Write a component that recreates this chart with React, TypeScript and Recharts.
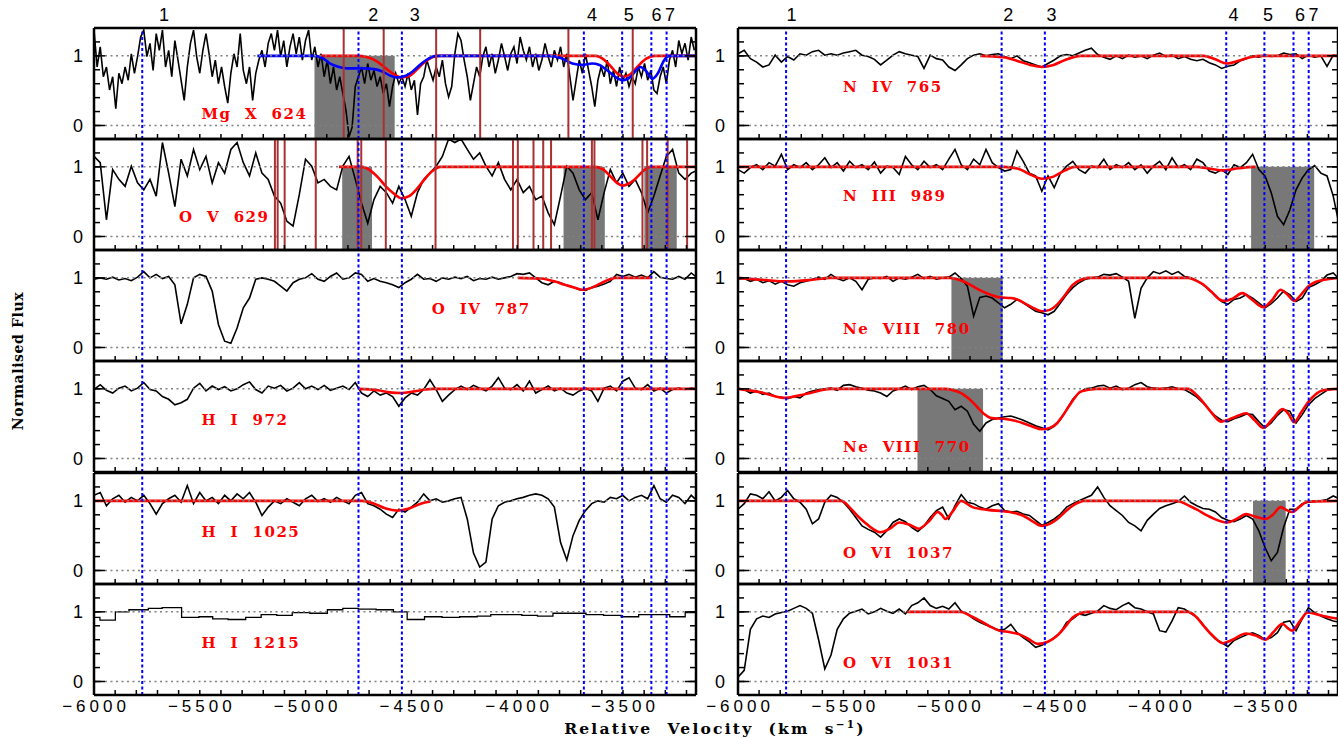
import React from "react";
import {
  LineChart,
  Line,
  XAxis,
  YAxis,
  ReferenceLine,
  ReferenceArea,
  ReferenceDot,
} from "recharts";

type Pair = [number, number];

const V_MIN = -6000;
const V_MAX = -3155;
const F_MIN = -0.194;
const F_MAX = 1.4;

const FINE_STEP = 14.7;
const STEP = 29.4;

const MINOR_V = [
  -6000, -5900, -5800, -5700, -5600, -5500, -5400, -5300, -5200, -5100, -5000,
  -4900, -4800, -4700, -4600, -4500, -4400, -4300, -4200, -4100, -4000, -3900,
  -3800, -3700, -3600, -3500, -3400, -3300, -3200,
];
const MAJOR_V = [-6000, -5500, -5000, -4500, -4000, -3500];
const MINOR_F = [0, 0.2, 0.4, 0.6, 0.8, 1, 1.2];
const MAJOR_F = [0, 1];

// velocity components (blue dotted lines) and where their numbers sit on top
const COMPONENTS = [-5772, -4750, -4545, -3685, -3504, -3366, -3294];
const COMPONENT_NAMES = ["1", "2", "3", "4", "5", "6", "7"];
const NAME_POS_LEFT = [-5669, -4680, -4484, -3647, -3473, -3342, -3278];
const NAME_POS_RIGHT = [-5746, -4718, -4513, -3651, -3487, -3335, -3271];

// ---- spectra (normalised flux), sampled from -6000 km/s ----
const MG_X_624 = [
  1.37, 0.84, 1.13, 0.7, 0.84, 0.51, 0.7, 0.24, 0.75, 0.6,
  0.84, 0.65, 1.03, 0.75, 0.99, 1.27, 1.37, 0.99, 1.18, 0.79,
  1.32, 1.08, 1.37, 0.84, 1.08, 0.7, 1.22, 0.94, 0.65, 0.36,
  0.84, 1.18, 1.37, 0.99, 0.75, 1.08, 1.32, 1.03, 0.7, 0.94,
  0.6, 0.84, 0.56, 0.32, 0.75, 1.03, 0.84, 1.32, 0.79, 0.6,
  0.84, 0.36, 0.75, 0.94, 1.08, 0.84, 1.18, 1.32, 1.08, 1.37,
  0.99, 1.22, 0.84, 1.13, 1.32, 1.03, 1.27, 0.94, 1.22, 1.37,
  0.94, 1.13, 0.84, 1.03, 0.7, 0.94, 0.6, 0.84, 0.51, 0.7,
  0.46, 0.22, -0.16, -0.02, 0.56, 0.7, 0.84, 0.6, 0.89, 0.65,
  0.79, 0.56, 0.7, 0.46, 0.6, 0.27, 0.56, 0.75, 0.6, 0.7,
  0.56, 0.75, 0.51, 0.65, 0.15, 0.6, 0.7, 0.94, 0.79, 0.65,
  0.84, 0.7, 0.94, 0.6, 0.41, 0.56, 1.03, 1.32, 1.22, 0.94,
  0.7, 0.36, 0.6, 0.84, 0.7, 0.99, 1.13, 0.84, 1.03, 0.75,
  0.94, 1.18, 0.99, 0.79, 1.03, 1.13, 0.89, 1.27, 1.08, 0.94,
  1.13, 0.84, 1.03, 0.79, 0.94, 1.18, 0.99, 0.84, 1.08, 0.94,
  1.13, 0.84, 1.03, 0.7, 0.36, 0.65, 0.94, 0.75, 1.03, 0.79,
  0.56, 0.27, 0.65, 0.84, 0.7, 0.94, 0.6, 0.79, 0.56, 0.84,
  0.65, 0.75, 0.56, 0.7, 0.6, 0.84, 0.7, 0.89, 0.65, 0.79,
  0.51, 0.46, 0.7, 0.84, 0.6, 0.94, 1.08, 0.84, 1.22, 1.03,
  1.18, 0.94, 1.27, 1.08,
];

const O_V_629 = [
  1.15, 1.06, 0.24, 0.96, 0.82, 0.72, 1.01, 0.77, 0.67, 0.82,
  0.58, 1.35, 0.91, 0.43, 1.11, 0.87, 1.25, 0.96, 1.15, 0.77,
  1.06, 0.91, 1.25, 1.35, 1.06, 0.87, 1.2, 0.91, 0.82, 0.58,
  0.48, 0.22, 0.15, 0.6, 1.11, 1.01, 0.77, 0.82, 0.72, 0.67,
  1.01, 1.15, 0.82, 0.48, 0.19, 0.53, 0.72, 0.63, 0.48, 0.72,
  0.53, 0.29, 0.63, 0.82, 0.91, 1.01, 1.15, 1.4, 1.35, 1.4,
  1.25, 1.11, 1.2, 1.01, 0.87, 1.06, 0.82, 0.67, 0.82, 0.63,
  0.72, 0.53, 0.58, 0.34, 0.17, 0.58, 1.01, 0.91, 0.67, 0.53,
  0.63, 0.24, 0.63, 0.96, 0.77, 0.91, 0.72, 0.82, 0.63, 0.34,
  0.58, 0.87, 1.15, 1.25, 0.91, 0.82, 0.91, 0.95,
];

const O_IV_787 = [
  0.98, 1.0, 0.98, 1.01, 0.97, 0.99, 0.96, 1.01, 1.09, 1.0,
  1.05, 0.99, 1.02, 0.9, 0.34, 0.62, 1.0, 1.05, 1.02, 0.81,
  0.33, 0.09, 0.06, 0.28, 0.57, 0.71, 0.98, 1.0, 0.98, 0.95,
  0.88, 0.81, 0.93, 0.98, 1.0, 1.06, 0.98, 0.95, 1.02, 1.07,
  0.98, 1.0, 1.07, 1.05, 0.95, 0.99, 0.95, 0.93, 0.9, 0.86,
  0.93, 0.98, 1.05, 0.98, 0.99, 0.95, 1.0, 0.98, 1.01, 0.99,
  1.02, 0.96, 0.99, 0.98, 1.01, 0.98, 1.0, 1.02, 1.06, 1.05,
  1.07, 1.0, 0.93, 0.9, 0.95, 0.93, 0.89, 0.87, 0.83, 0.82,
  0.86, 0.88, 0.91, 0.95, 1.05, 1.02, 1.05, 1.01, 1.04, 1.0,
  1.09, 1.01, 0.99, 0.98, 1.02, 0.98, 1.07, 1.0,
];

const H_I_972 = [
  0.99, 1.06, 0.98, 0.94, 1.01, 1.04, 0.97, 1.01, 1.09, 0.99,
  0.97, 0.89, 0.85, 0.77, 0.8, 0.85, 1.01, 1.08, 0.97, 1.04,
  0.99, 1.03, 0.97, 1.0, 1.06, 1.1, 0.99, 0.94, 1.04, 1.01,
  1.05, 0.97, 1.01, 1.09, 1.0, 1.04, 0.99, 1.05, 0.98, 1.01,
  1.04, 0.99, 1.09, 0.94, 0.89, 0.97, 0.91, 0.94, 0.89, 0.75,
  0.87, 0.94, 0.91, 0.99, 1.13, 0.99, 0.82, 0.91, 0.99, 1.04,
  0.99, 1.05, 1.01, 0.97, 1.04, 1.16, 1.01, 0.99, 1.06, 0.97,
  1.11, 0.94, 0.99, 1.04, 0.97, 1.01, 0.94, 0.91, 0.97, 1.01,
  0.97, 0.82, 1.01, 1.04, 0.97, 1.11, 1.16, 1.01, 0.99, 1.06,
  0.97, 1.01, 0.94, 0.99, 1.01, 0.99, 1.01, 1.0,
];

const H_I_1025 = [
  1.08, 1.12, 0.93, 1.03, 1.08, 0.98, 1.05, 1.0, 1.08, 0.96,
  0.81, 0.96, 1.03, 1.08, 0.98, 1.22, 0.96, 1.12, 1.0, 1.05,
  0.96, 1.08, 1.0, 1.1, 1.03, 1.12, 0.98, 0.79, 0.91, 1.0,
  0.96, 1.03, 0.98, 0.93, 1.03, 1.08, 0.99, 1.03, 0.98, 1.05,
  1.0, 0.96, 1.08, 1.12, 0.96, 0.93, 0.88, 0.81, 0.76, 0.88,
  0.84, 0.91, 0.98, 1.1, 1.0, 1.03, 0.98, 1.0, 1.03, 1.05,
  0.74, 0.25, 0.05, 0.12, 0.74, 0.93, 0.98, 1.0, 1.03, 1.05,
  1.08, 1.1, 1.08, 1.03, 0.91, 0.4, 0.15, 0.5, 0.72, 0.86,
  0.96, 1.0, 0.98, 1.05, 1.03, 1.08, 1.0, 1.05, 1.08, 1.03,
  1.22, 1.03, 0.98, 1.08, 1.05, 0.96, 1.08, 1.0,
];

// H I 1215 is binned: [bin start velocity, flux]
const H_I_1215: Pair[] = [
  [-6000, 0.92], [-5972, 0.88], [-5899, 1.0], [-5835, 1.03], [-5743, 1.05],
  [-5678, 1.06], [-5586, 0.92], [-5504, 0.93], [-5439, 0.9], [-5366, 0.89],
  [-5283, 0.92], [-5210, 0.96], [-5136, 0.95], [-5063, 0.99], [-4980, 0.98],
  [-4897, 1.03], [-4824, 1.05], [-4750, 1.04], [-4667, 1.03], [-4585, 1.0],
  [-4520, 0.89], [-4438, 0.93], [-4355, 0.92], [-4272, 0.93], [-4189, 0.94],
  [-4125, 0.96], [-4051, 0.96], [-3978, 0.95], [-3904, 0.94], [-3831, 0.98],
  [-3757, 0.98], [-3675, 0.96], [-3592, 0.95], [-3509, 0.93], [-3426, 0.96],
  [-3353, 0.96], [-3279, 0.93], [-3206, 0.99], [-3150, 0.99],
];

const N_IV_765 = [
  1.03, 1.08, 0.96, 0.91, 0.84, 0.87, 1.01, 0.91, 0.99, 0.94,
  1.03, 1.01, 1.06, 1.08, 1.01, 1.03, 1.01, 1.04, 1.06, 1.08,
  1.01, 0.99, 0.95, 0.87, 0.94, 1.01, 1.06, 1.03, 1.01, 0.99,
  0.82, 1.01, 0.96, 0.94, 0.84, 0.79, 0.87, 0.96, 1.01, 1.03,
  1.0, 1.02, 1.03, 0.99, 0.96, 1.0, 0.93, 0.9, 0.87, 0.84,
  0.89, 0.94, 1.0, 1.02, 1.0, 1.04, 1.08, 1.11, 1.02, 0.98,
  0.95, 1.0, 0.96, 1.01, 0.98, 1.0, 0.96, 1.01, 1.04, 0.99,
  1.01, 0.96, 0.99, 0.95, 0.93, 0.95, 0.9, 0.87, 0.82, 0.85,
  0.87, 0.93, 0.96, 1.0, 0.98, 1.01, 0.99, 1.0, 1.04, 1.02,
  1.03, 0.96, 1.01, 0.98, 1.0, 0.85, 1.01, 1.0,
];

const N_III_989 = [
  0.96, 0.91, 0.99, 1.03, 0.96, 1.06, 1.01, 1.18, 0.96, 1.03,
  0.99, 1.06, 0.96, 1.03, 1.13, 0.99, 1.06, 0.94, 1.08, 0.99,
  1.03, 0.96, 1.07, 0.91, 1.01, 0.99, 0.89, 1.15, 1.03, 0.96,
  1.08, 0.99, 1.03, 0.96, 1.11, 1.25, 1.03, 0.96, 1.11, 1.03,
  1.25, 1.06, 0.99, 0.94, 0.96, 1.23, 1.08, 0.91, 0.87, 0.65,
  0.87, 0.7, 0.91, 1.01, 1.08, 0.96, 0.91, 1.01, 0.99, 1.11,
  0.96, 1.03, 0.99, 1.06, 0.96, 1.03, 0.91, 1.01, 1.08, 0.96,
  1.13, 0.99, 1.03, 0.96, 1.11, 1.06, 0.94, 0.91, 0.96, 0.89,
  1.03, 0.99, 1.06, 1.18, 0.96, 0.87, 0.63, 0.29, 0.17, 0.38,
  0.67, 0.84, 0.96, 1.02, 0.91, 0.87, 0.58, 0.15,
];

const NE_VIII_780 = [
  0.98, 0.99, 0.95, 0.98, 0.93, 0.96, 0.91, 0.95, 0.9, 0.88,
  0.93, 0.95, 0.98, 1.01, 0.98, 1.05, 0.99, 0.96, 1.0, 0.95,
  0.83, 0.98, 1.0, 0.99, 1.02, 0.95, 1.0, 0.98, 1.01, 1.05,
  0.99, 1.02, 0.98, 1.0, 1.01, 1.07, 0.99, 0.88, 0.45, 0.72,
  0.74, 0.71, 0.64, 0.57, 0.62, 0.69, 0.64, 0.58, 0.52, 0.5,
  0.47, 0.52, 0.64, 0.76, 0.86, 0.93, 0.98, 1.0, 1.01, 1.05,
  1.04, 1.06, 1.01, 0.95, 0.42, 0.85, 1.0, 1.09, 1.06, 1.1,
  1.05, 1.09, 1.02, 1.0, 0.96, 0.9, 0.83, 0.74, 0.66, 0.62,
  0.69, 0.71, 0.76, 0.71, 0.64, 0.57, 0.63, 0.71, 0.81, 0.76,
  0.66, 0.71, 0.86, 0.9, 0.95, 1.04, 1.07, 0.98,
];

const NE_VIII_770 = [
  1.01, 0.99, 0.94, 0.97, 0.92, 0.94, 0.89, 0.88, 0.86, 0.89,
  0.87, 0.94, 0.97, 0.99, 1.0, 1.01, 0.98, 1.05, 1.06, 1.03,
  1.01, 0.98, 0.97, 0.94, 0.89, 0.97, 1.0, 1.04, 0.99, 1.03,
  1.05, 0.99, 0.9, 0.86, 0.82, 0.7, 0.75, 0.68, 0.49, 0.39,
  0.51, 0.56, 0.58, 0.6, 0.61, 0.58, 0.55, 0.51, 0.47, 0.44,
  0.41, 0.46, 0.56, 0.7, 0.85, 0.94, 1.0, 1.01, 1.04, 1.05,
  1.01, 1.04, 0.99, 1.01, 1.06, 1.09, 1.03, 1.01, 1.0, 1.01,
  1.03, 1.0, 0.99, 0.94, 0.88, 0.8, 0.7, 0.61, 0.55, 0.53,
  0.57, 0.6, 0.64, 0.63, 0.53, 0.44, 0.51, 0.62, 0.7, 0.68,
  0.51, 0.63, 0.77, 0.86, 0.92, 0.98, 1.0, 0.99,
];

const O_VI_1037 = [
  0.88, 0.96, 1.1, 1.08, 1.03, 1.13, 1.0, 1.05, 1.15, 1.03,
  0.98, 0.88, 0.67, 0.74, 0.98, 1.08, 1.05, 0.98, 0.88, 0.76,
  0.64, 0.59, 0.55, 0.48, 0.57, 0.69, 0.74, 0.7, 0.62, 0.56,
  0.64, 0.76, 0.86, 0.91, 0.74, 0.93, 1.09, 0.98, 0.96, 0.91,
  0.88, 0.93, 0.96, 0.86, 0.84, 0.85, 0.81, 0.79, 0.72, 0.65,
  0.69, 0.74, 0.81, 0.91, 0.96, 1.0, 1.04, 1.08, 1.2, 1.05,
  0.93, 0.86, 0.79, 0.69, 0.64, 0.57, 0.72, 0.81, 0.89, 0.93,
  0.96, 0.99, 1.07, 0.98, 0.93, 0.89, 0.88, 0.84, 0.76, 0.72,
  0.7, 0.74, 0.79, 0.74, 0.57, 0.33, 0.14, 0.26, 0.62, 0.88,
  0.88, 0.96, 0.98, 0.99, 1.0, 1.02, 1.07, 1.03,
];

const O_VI_1031 = [
  0.06, 0.16, 0.75, 0.9, 0.94, 0.92, 0.97, 0.99, 1.01, 1.05,
  1.09, 1.05, 0.98, 0.6, 0.18, 0.38, 0.75, 0.9, 0.98, 1.01,
  1.04, 0.97, 1.0, 1.05, 1.01, 0.98, 1.04, 0.97, 1.09, 1.13,
  1.2, 1.09, 1.05, 1.08, 1.04, 1.13, 1.01, 0.97, 0.9, 0.85,
  0.81, 0.78, 0.74, 0.75, 0.82, 0.7, 0.63, 0.57, 0.49, 0.52,
  0.57, 0.63, 0.7, 0.85, 0.9, 0.97, 0.95, 0.98, 1.01, 1.09,
  1.05, 1.03, 1.09, 1.13, 1.06, 1.04, 1.0, 0.97, 0.73, 0.71,
  0.87, 1.06, 1.04, 0.98, 0.92, 0.82, 0.7, 0.61, 0.56, 0.5,
  0.59, 0.63, 0.67, 0.7, 0.66, 0.6, 0.63, 0.7, 0.85, 0.87,
  0.73, 0.9, 1.06, 0.99, 0.94, 0.9, 0.87, 0.85,
];

// ---- model fits: [velocity, flux] ----
const MG_X_624_FIT_RED: Pair[] = [
  [-4934, 1], [-4750, 1], [-4695, 0.97], [-4658, 0.91], [-4621, 0.82],
  [-4585, 0.74], [-4548, 0.69], [-4511, 0.71], [-4475, 0.8], [-4438, 0.91],
  [-4401, 0.98], [-4364, 1], [-3629, 1], [-3592, 0.95], [-3555, 0.84],
  [-3528, 0.75], [-3500, 0.7], [-3464, 0.74], [-3427, 0.86], [-3390, 0.96],
  [-3353, 1], [-3150, 1],
];
const MG_X_624_FIT_BLUE: Pair[] = [
  [-5228, 1], [-4952, 1], [-4916, 0.96], [-4879, 0.88], [-4842, 0.84],
  [-4805, 0.82], [-4732, 0.82], [-4676, 0.81], [-4640, 0.78], [-4603, 0.72],
  [-4566, 0.69], [-4530, 0.71], [-4493, 0.78], [-4456, 0.88], [-4419, 0.96],
  [-4383, 1], [-3850, 1], [-3794, 0.97], [-3739, 0.89], [-3693, 0.87],
  [-3647, 0.89], [-3611, 0.87], [-3574, 0.79], [-3537, 0.7], [-3500, 0.65],
  [-3464, 0.7], [-3436, 0.8], [-3418, 0.84], [-3390, 0.78], [-3362, 0.67],
  [-3335, 0.75], [-3307, 0.93], [-3280, 1], [-3150, 1],
];
const O_V_629_FIT: Pair[] = [
  [-4842, 1], [-4732, 1], [-4695, 0.95], [-4658, 0.85], [-4621, 0.72],
  [-4585, 0.62], [-4548, 0.55], [-4511, 0.58], [-4475, 0.68], [-4438, 0.82],
  [-4401, 0.94], [-4364, 1], [-3629, 1], [-3592, 0.96], [-3555, 0.85],
  [-3528, 0.77], [-3500, 0.73], [-3473, 0.76], [-3445, 0.82], [-3408, 0.93],
  [-3372, 1], [-3150, 1],
];
const O_IV_787_FIT: Pair[] = [
  [-3997, 1], [-3887, 0.99], [-3850, 0.97], [-3813, 0.94], [-3776, 0.9],
  [-3739, 0.87], [-3693, 0.83], [-3647, 0.86], [-3620, 0.9], [-3592, 0.94],
  [-3537, 1], [-3362, 1],
];
const H_I_972_FIT: Pair[] = [
  [-4750, 1], [-4658, 0.98], [-4603, 0.95], [-4548, 0.94], [-4493, 0.96],
  [-4438, 0.99], [-4401, 1], [-3150, 1],
];
const H_I_1025_FIT: Pair[] = [
  [-6000, 1], [-4732, 1], [-4676, 0.96], [-4621, 0.89], [-4566, 0.86],
  [-4511, 0.89], [-4456, 0.96], [-4410, 0.99],
];
const N_IV_765_FIT: Pair[] = [
  [-4851, 1], [-4742, 0.98], [-4668, 0.92], [-4614, 0.87], [-4559, 0.84],
  [-4504, 0.87], [-4449, 0.94], [-4376, 1], [-3792, 1], [-3737, 0.95],
  [-3682, 0.89], [-3627, 0.93], [-3573, 0.98], [-3518, 1], [-3150, 1],
];
const N_III_989_FIT: Pair[] = [
  [-6000, 1], [-4742, 1], [-4668, 0.97], [-4614, 0.89], [-4559, 0.83],
  [-4504, 0.86], [-4449, 0.95], [-4404, 1], [-3828, 1], [-3755, 0.97],
  [-3700, 0.95], [-3627, 0.98], [-3554, 1], [-3545, 1],
];
const NE_VIII_780_FIT: Pair[] = [
  [-6000, 1], [-5874, 0.97], [-5764, 0.95], [-5655, 0.97], [-5563, 1],
  [-4997, 1], [-4960, 0.98], [-4924, 0.94], [-4887, 0.88], [-4851, 0.82],
  [-4805, 0.76], [-4760, 0.72], [-4705, 0.71], [-4668, 0.68], [-4632, 0.62],
  [-4595, 0.56], [-4559, 0.52], [-4522, 0.54], [-4486, 0.62], [-4450, 0.75],
  [-4413, 0.9], [-4376, 0.97], [-4340, 1], [-3865, 1], [-3828, 0.96],
  [-3792, 0.9], [-3755, 0.8], [-3701, 0.67], [-3655, 0.7], [-3609, 0.78],
  [-3560, 0.68], [-3510, 0.58], [-3468, 0.68], [-3427, 0.83], [-3395, 0.76],
  [-3363, 0.67], [-3330, 0.76], [-3299, 0.87], [-3262, 0.94], [-3226, 0.97],
  [-3150, 1],
];
const NE_VIII_770_FIT: Pair[] = [
  [-6000, 1], [-5892, 0.95], [-5783, 0.87], [-5673, 0.93], [-5563, 1],
  [-5016, 1], [-4980, 0.98], [-4942, 0.94], [-4906, 0.86], [-4869, 0.75],
  [-4833, 0.64], [-4797, 0.58], [-4742, 0.57], [-4697, 0.55], [-4651, 0.51],
  [-4605, 0.46], [-4559, 0.42], [-4522, 0.44], [-4486, 0.51], [-4459, 0.62],
  [-4431, 0.75], [-4404, 0.87], [-4376, 0.96], [-4303, 1], [-3865, 1],
  [-3828, 0.92], [-3792, 0.8], [-3755, 0.66], [-3710, 0.53], [-3655, 0.58],
  [-3591, 0.65], [-3550, 0.55], [-3510, 0.44], [-3464, 0.57], [-3418, 0.71],
  [-3390, 0.64], [-3363, 0.52], [-3330, 0.66], [-3299, 0.8], [-3262, 0.92],
  [-3226, 0.98], [-3150, 1],
];
const O_VI_1037_FIT: Pair[] = [
  [-6000, 1], [-5509, 1], [-5472, 0.91], [-5435, 0.79], [-5399, 0.69],
  [-5362, 0.6], [-5326, 0.55], [-5280, 0.6], [-5235, 0.69], [-5189, 0.66],
  [-5143, 0.6], [-5097, 0.7], [-5052, 0.84], [-5034, 0.8], [-5016, 0.74],
  [-4979, 0.86], [-4942, 1], [-4888, 0.91], [-4815, 0.87], [-4742, 0.85],
  [-4696, 0.83], [-4650, 0.79], [-4605, 0.71], [-4559, 0.64], [-4522, 0.67],
  [-4486, 0.74], [-4450, 0.84], [-4413, 0.93], [-4358, 1], [-3920, 1],
  [-3874, 0.95], [-3828, 0.88], [-3755, 0.76], [-3682, 0.69], [-3636, 0.74],
  [-3591, 0.81], [-3545, 0.77], [-3500, 0.74], [-3464, 0.8], [-3427, 0.91],
  [-3400, 0.87], [-3372, 0.84], [-3335, 0.92], [-3299, 0.99], [-3150, 1],
];
const O_VI_1031_FIT: Pair[] = [
  [-5198, 1], [-4942, 1], [-4897, 0.94], [-4851, 0.87], [-4805, 0.79],
  [-4760, 0.73], [-4714, 0.71], [-4668, 0.68], [-4623, 0.61], [-4577, 0.54],
  [-4531, 0.57], [-4486, 0.66], [-4450, 0.78], [-4413, 0.92], [-4376, 0.98],
  [-4340, 1], [-3865, 1], [-3828, 0.93], [-3792, 0.8], [-3746, 0.65],
  [-3701, 0.55], [-3655, 0.6], [-3591, 0.69], [-3545, 0.66], [-3500, 0.6],
  [-3464, 0.7], [-3418, 0.83], [-3395, 0.77], [-3372, 0.73], [-3335, 0.87],
  [-3299, 0.99], [-3262, 0.97], [-3226, 0.94], [-3150, 0.9],
];

// blended / masked velocities (brown vertical lines)
const MG_X_624_MASKS = [-4820, -4631, -4383, -4175, -3758, -3454];
const O_V_629_MASKS = [
  -5145, -5132, -5099, -4952, -4754, -4737, -4621, -4386, -4020, -3997,
  -3923, -3877, -3840, -3647, -3635, -3408, -3386, -3289, -3197,
];

const RED = "#ff0000";
const BLUE = "#0000ff";
const BROWN = "#a83232";
const SHADE = "#787878";
const NUM_FONT = "'Liberation Sans', Arial, sans-serif";
const LABEL_FONT = "'DejaVu Serif', serif";

interface PanelSpec {
  col: number;
  row: number;
  name: string;
  nameAt: Pair;
  flux?: number[];
  step?: number;
  bins?: Pair[];
  fits: { pts: Pair[]; color: string }[];
  shades: Pair[];
  marks: number[];
}

const PANELS: PanelSpec[] = [
  { col: 0, row: 0, name: "Mg X 624", nameAt: [-5492, 0.17], flux: MG_X_624, step: FINE_STEP,
    fits: [{ pts: MG_X_624_FIT_RED, color: RED }, { pts: MG_X_624_FIT_BLUE, color: BLUE }],
    shades: [[-4958, -4579]], marks: MG_X_624_MASKS },
  { col: 0, row: 1, name: "O V 629", nameAt: [-5598, 0.28], flux: O_V_629, step: STEP,
    fits: [{ pts: O_V_629_FIT, color: RED }],
    shades: [[-4827, -4686], [-3781, -3586], [-3399, -3246]], marks: O_V_629_MASKS },
  { col: 0, row: 2, name: "O IV 787", nameAt: [-4404, 0.56], flux: O_IV_787, step: STEP,
    fits: [{ pts: O_IV_787_FIT, color: RED }], shades: [], marks: [] },
  { col: 0, row: 3, name: "H I 972", nameAt: [-5492, 0.56], flux: H_I_972, step: STEP,
    fits: [{ pts: H_I_972_FIT, color: RED }], shades: [], marks: [] },
  { col: 0, row: 4, name: "H I 1025", nameAt: [-5492, 0.56], flux: H_I_1025, step: STEP,
    fits: [{ pts: H_I_1025_FIT, color: RED }], shades: [], marks: [] },
  { col: 0, row: 5, name: "H I 1215", nameAt: [-5492, 0.56], bins: H_I_1215,
    fits: [], shades: [], marks: [] },
  { col: 1, row: 0, name: "N IV 765", nameAt: [-5502, 0.56], flux: N_IV_765, step: STEP,
    fits: [{ pts: N_IV_765_FIT, color: RED }], shades: [], marks: [] },
  { col: 1, row: 1, name: "N III 989", nameAt: [-5502, 0.58], flux: N_III_989, step: STEP,
    fits: [{ pts: N_III_989_FIT, color: RED }], shades: [[-3567, -3268]], marks: [] },
  { col: 1, row: 2, name: "Ne VIII 780", nameAt: [-5502, 0.27], flux: NE_VIII_780, step: STEP,
    fits: [{ pts: NE_VIII_780_FIT, color: RED }], shades: [[-4988, -4745]], marks: [] },
  { col: 1, row: 3, name: "Ne VIII 770", nameAt: [-5502, 0.17], flux: NE_VIII_770, step: STEP,
    fits: [{ pts: NE_VIII_770_FIT, color: RED }], shades: [[-5149, -4838]], marks: [] },
  { col: 1, row: 4, name: "O VI 1037", nameAt: [-5502, 0.25], flux: O_VI_1037, step: STEP,
    fits: [{ pts: O_VI_1037_FIT, color: RED }], shades: [[-3558, -3403]], marks: [] },
  { col: 1, row: 5, name: "O VI 1031", nameAt: [-5502, 0.27], flux: O_VI_1031, step: STEP,
    fits: [{ pts: O_VI_1031_FIT, color: RED }], shades: [], marks: [] },
];

const noTick = () => <g />;
const tickPen = { stroke: "#000", strokeWidth: 1.5 };
const framePen = { stroke: "#000", strokeWidth: 2.5 };
const minus = (v: number) => String(v).replace("-", "\u2212");
const numText = { fontSize: 18, fill: "#000", fontFamily: NUM_FONT, letterSpacing: 4 };

function Panel({ p }: { p: PanelSpec }) {
  const plotLeft = p.col === 0 ? 93.5 : 737.5;
  const plotW = p.col === 0 ? 602 : 600;
  const plotTop = 27.7 + p.row * 111.2;
  const plotH = 111;
  // the y label axis takes 1px, so the left margin is 1px smaller
  const m = { top: 30, right: 6, bottom: 36, left: 43 };
  const spectrum = p.flux
    ? p.flux.map((f, i) => ({ v: V_MIN + (p.step as number) * i, f }))
    : (p.bins as Pair[]).map(([v, f]) => ({ v, f }));
  const namePos = p.col === 0 ? NAME_POS_LEFT : NAME_POS_RIGHT;
  const ids = { xAxisId: "x", yAxisId: "y" };

  return (
    <div style={{ position: "absolute", left: plotLeft - 44, top: plotTop - m.top }}>
      <LineChart width={plotW + 44 + m.right} height={plotH + m.top + m.bottom} margin={m}>
        <XAxis xAxisId="x" type="number" dataKey="v" domain={[V_MIN, V_MAX]} allowDataOverflow
          orientation="bottom" mirror height={1} ticks={MINOR_V} interval={0} tick={noTick}
          tickSize={5} tickLine={tickPen} axisLine={framePen} />
        <XAxis xAxisId="xb" type="number" domain={[V_MIN, V_MAX]} allowDataOverflow
          orientation="bottom" mirror height={1} ticks={MAJOR_V} interval={0} tick={noTick}
          tickSize={9} tickLine={tickPen} axisLine={false} />
        <XAxis xAxisId="xt" type="number" domain={[V_MIN, V_MAX]} allowDataOverflow
          orientation="top" mirror height={1} ticks={MINOR_V} interval={0} tick={noTick}
          tickSize={5} tickLine={tickPen} axisLine={framePen} />
        <XAxis xAxisId="xtb" type="number" domain={[V_MIN, V_MAX]} allowDataOverflow
          orientation="top" mirror height={1} ticks={MAJOR_V} interval={0} tick={noTick}
          tickSize={9} tickLine={tickPen} axisLine={false} />
        <YAxis yAxisId="y" type="number" domain={[F_MIN, F_MAX]} allowDataOverflow
          orientation="left" mirror width={1} ticks={MINOR_F} interval={0} tick={noTick}
          tickSize={6} tickLine={tickPen} axisLine={framePen} />
        <YAxis yAxisId="yb" type="number" domain={[F_MIN, F_MAX]} allowDataOverflow
          orientation="left" mirror width={1} ticks={MAJOR_F} interval={0} tick={noTick}
          tickSize={10} tickLine={tickPen} axisLine={false} />
        <YAxis yAxisId="yr" type="number" domain={[F_MIN, F_MAX]} allowDataOverflow
          orientation="right" mirror width={1} ticks={MINOR_F} interval={0} tick={noTick}
          tickSize={6} tickLine={tickPen} axisLine={framePen} />
        <YAxis yAxisId="yrb" type="number" domain={[F_MIN, F_MAX]} allowDataOverflow
          orientation="right" mirror width={1} ticks={MAJOR_F} interval={0} tick={noTick}
          tickSize={10} tickLine={tickPen} axisLine={false} />
        <YAxis yAxisId="yl" type="number" domain={[F_MIN, F_MAX]} allowDataOverflow
          orientation="left" width={1} ticks={MAJOR_F} interval={0} tickLine={false}
          axisLine={false} tickSize={0} tickMargin={p.col === 0 ? 7 : 9} tick={numText} />

        {p.shades.map(([a, b], k) => (
          <ReferenceArea key={`s${k}`} {...ids} x1={a} x2={b} y1={F_MIN} y2={1}
            fill={SHADE} fillOpacity={1} stroke="none" />
        ))}

        <Line {...ids} data={spectrum} dataKey="f" type={p.bins ? "stepAfter" : "linear"}
          stroke="#000" strokeWidth={p.bins ? 1.3 : 1.6} dot={false} isAnimationActive={false} />
        {p.fits.map((fit, k) => (
          <Line key={`f${k}`} {...ids} data={fit.pts.map(([v, f]) => ({ v, f }))} dataKey="f"
            type="monotone" stroke={fit.color} strokeWidth={2.6} dot={false}
            isAnimationActive={false} />
        ))}

        <ReferenceLine {...ids} y={0} stroke="#808080" strokeDasharray="2 3.5" strokeWidth={1.5} />
        <ReferenceLine {...ids} y={1} stroke="#808080" strokeDasharray="2 3.5" strokeWidth={1.5} />
        {p.marks.map((v, k) => (
          <ReferenceLine key={`m${k}`} {...ids} x={v} stroke={BROWN} strokeWidth={2} />
        ))}
        {COMPONENTS.map((v, k) => (
          <ReferenceLine key={`c${k}`} {...ids} x={v} stroke={BLUE} strokeDasharray="3 2.5"
            strokeWidth={2} />
        ))}

        <ReferenceDot {...ids} x={p.nameAt[0]} y={p.nameAt[1]} r={0} fill="none" stroke="none"
          label={{
            value: p.name.split(" ").join("\u00a0\u00a0"),
            position: "right",
            offset: 0,
            fill: RED,
            fontSize: 15,
            fontWeight: "bold",
            fontFamily: LABEL_FONT,
            letterSpacing: 1.5,
          }} />
        {p.row === 0 &&
          COMPONENT_NAMES.map((n, k) => (
            <ReferenceDot key={`n${k}`} {...ids} x={namePos[k]} y={F_MAX} r={0} fill="none"
              stroke="none" ifOverflow="visible"
              label={{ value: n, position: "top", offset: 7, fill: "#000", fontSize: 18,
                fontFamily: NUM_FONT }} />
          ))}
        {p.row === 5 &&
          MAJOR_V.map((v) => (
            <ReferenceDot key={`t${v}`} {...ids} x={v} y={F_MIN} r={0} fill="none"
              stroke="none" ifOverflow="visible"
              label={{ value: minus(v), position: "bottom", offset: 5, dx: 2, ...numText,
                fontSize: 17 }} />
          ))}
      </LineChart>
    </div>
  );
}

export default function App() {
  return (
    <div style={{ position: "relative", width: 1338, height: 738, overflow: "hidden", background: "#fff" }}>
      <style>{"body{margin:0}"}</style>
      {PANELS.map((p, k) => (
        <Panel key={k} p={p} />
      ))}
      <svg width={1338} height={738} style={{ position: "absolute", left: 0, top: 0, pointerEvents: "none" }}>
        <text x={715} y={733.5} textAnchor="middle" fontFamily={LABEL_FONT} fontWeight="bold"
          fontSize={15.5} letterSpacing={2.2} fill="#000">
          {"Relative\u00a0\u00a0Velocity\u00a0\u00a0(km\u00a0\u00a0s"}
          <tspan dy={-6} fontSize={10.5}>{"\u22121"}</tspan>
          <tspan dy={6}>)</tspan>
        </text>
        <text transform="translate(23,361) rotate(-90)" textAnchor="middle" fontFamily={LABEL_FONT}
          fontWeight="bold" fontSize={14} letterSpacing={0.6} fill="#000">
          Normalised Flux
        </text>
      </svg>
    </div>
  );
}
